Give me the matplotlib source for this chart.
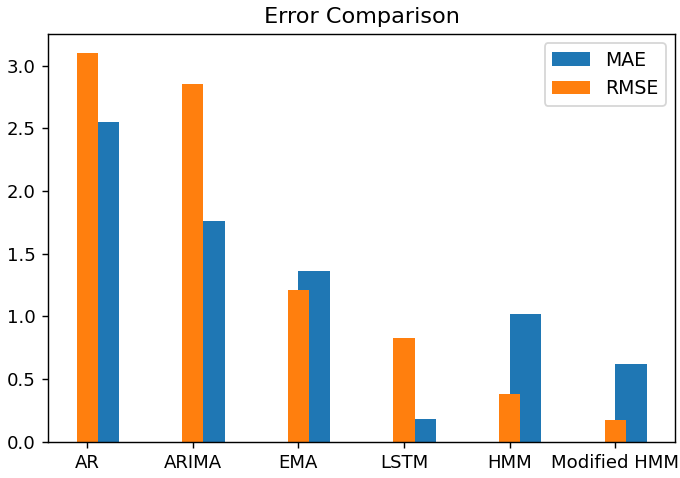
import numpy as np
from matplotlib import pyplot as plt

models = ['AR', 'ARIMA', 'EMA', 'LSTM', 'HMM', 'Modified HMM']
mae = [2.55, 1.76, 1.36, 0.18, 1.02, 0.62]
rmse = [3.10, 2.85, 1.21, 0.83, 0.38, 0.17]

x = np.arange(len(models))

fig = plt.figure(figsize=(680/128, 478/128), dpi=128)
ax = fig.add_axes([0.071, 0.076, 0.922, 0.8535])

ax.bar(x + 0.15, mae, width=0.3, label='MAE')
ax.bar(x, rmse, width=0.2, label='RMSE')
ax.set_xticks(x)
ax.set_xticklabels(models, fontsize=10.2)
ax.tick_params(axis='y', labelsize=10.2)
ax.set_title('Error Comparison', fontsize=12.6)
ax.legend(fontsize=10.6)

plt.savefig('out.png', dpi=128)
